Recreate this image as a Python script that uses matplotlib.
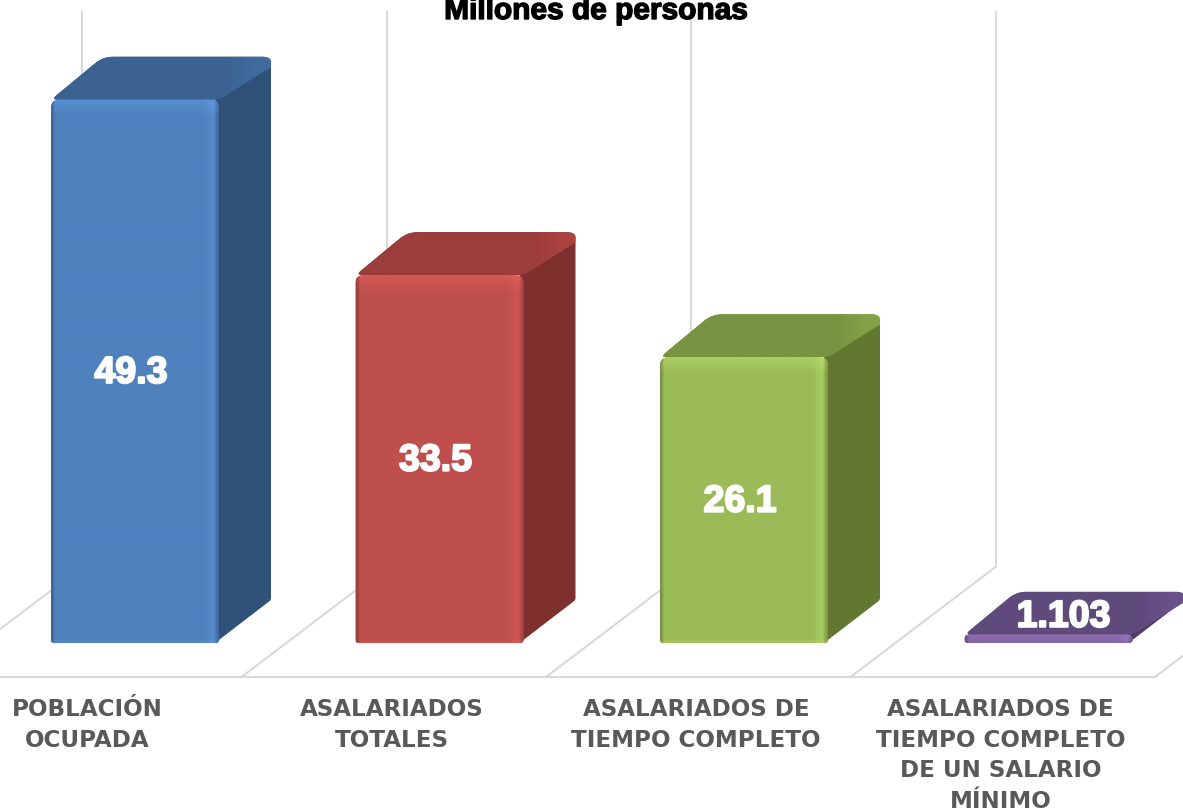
import numpy as np
import matplotlib
matplotlib.use('Agg')
import matplotlib.pyplot as plt
import matplotlib.patheffects as pe
from matplotlib.patches import PathPatch
from matplotlib.path import Path

# data
categories = ['POBLACIÓN\nOCUPADA', 'ASALARIADOS\nTOTALES',
              'ASALARIADOS DE\nTIEMPO COMPLETO',
              'ASALARIADOS DE\nTIEMPO COMPLETO\nDE UN SALARIO\nMÍNIMO']
values = [49.3, 33.5, 26.1, 1.103]
value_labels = ['49.3', '33.5', '26.1', '1.103']
front_colors = ['#4f81bd', '#c0504d', '#9bbb59', '#8064a2']
top_colors = ['#3b6291', '#9b3d3b', '#789341', '#5f4a7c']
side_colors = ['#30527a', '#7e302e', '#62772f', '#4d3b66']

# scale of the 3d box: pixels per unit on both axes
PX_X = 304.5
PX_Y = 11.1
BAR_W = 168 / PX_X
DEPTH_X = 52 / PX_X
DEPTH_Y = 43 / PX_Y
FLOOR = 4 / PX_Y   # bars sit a bit above zero, like the 3d floor in the original

fig = plt.figure(figsize=(11.83, 8.11), dpi=100)
ax = fig.add_axes([0, 0, 1, 1])
ax.axis('off')
xlim = (-135 / PX_X, (1183 - 135) / PX_X)
ylim = ((647 - 811) / PX_Y, 647 / PX_Y)

# grid: back walls and floor
grid = '#d9d9d9'
wall_top = 635 / PX_Y
wall_bottom = 80 / PX_Y
floor_y = -30 / PX_Y
for i in range(5):
    x = i - 53 / PX_X
    if i < 4:
        ax.plot([x, x], [wall_bottom, wall_top], color=grid, lw=1.5, zorder=1)
    ax.plot([x, x - 145 / PX_X], [wall_bottom, floor_y], color=grid, lw=1.5, zorder=1)
ax.plot([-0.6, 4 - 198 / PX_X], [floor_y, floor_y], color=grid, lw=1.5, zorder=1)


def rounded(pts, radii):
    # closed path through pts (data units), corners rounded by radii given in pixels
    scale = np.array([PX_X, PX_Y])
    p = np.array(pts) * scale
    n = len(p)
    verts, codes = [], []
    for k in range(n):
        cur = p[k]
        prev = p[k - 1]
        nxt = p[(k + 1) % n]
        a = cur + (prev - cur) / np.linalg.norm(prev - cur) * min(radii[k], np.linalg.norm(prev - cur) / 2)
        b = cur + (nxt - cur) / np.linalg.norm(nxt - cur) * min(radii[k], np.linalg.norm(nxt - cur) / 2)
        verts.append(a)
        codes.append(Path.MOVETO if k == 0 else Path.LINETO)
        verts += [cur, b]
        codes += [Path.CURVE3, Path.CURVE3]
    verts.append(verts[0])
    codes.append(Path.CLOSEPOLY)
    return Path(np.array(verts) / scale, codes)


def rgb(c):
    return np.array(matplotlib.colors.to_rgb(c))


for i, v in enumerate(values):
    x0 = i - BAR_W / 2
    x1 = i + BAR_W / 2
    base = FLOOR
    top = v
    notch = 10 / PX_Y

    # side face
    side = [(x1 - 4 / PX_X, base), (x1 + DEPTH_X, base + DEPTH_Y),
            (x1 + DEPTH_X, top + DEPTH_Y - notch), (x1 - 4 / PX_X, top)]
    ax.add_patch(PathPatch(rounded(side, [0, 2, 0, 0]), fc=side_colors[i], ec='none', zorder=3))

    # top face, slightly lighter towards the right corner
    top_pts = [(x0, top), (x0 + DEPTH_X, top + DEPTH_Y), (x1 + DEPTH_X, top + DEPTH_Y),
               (x1 + DEPTH_X, top + DEPTH_Y - notch), (x1, top)]
    top_patch = PathPatch(rounded(top_pts, [7, 10, 9, 0, 7]), fc=top_colors[i], ec='none', zorder=4)
    ax.add_patch(top_patch)
    ramp = np.ones((2, 220))
    ramp[:, 175:205] = np.linspace(1.0, 1.1, 30)
    ramp[:, 205:] = 1.1
    top_img = np.clip(rgb(top_colors[i])[None, None, :] * ramp[:, :, None], 0, 1)
    im_top = ax.imshow(top_img, extent=(x0, x1 + DEPTH_X, top, top + DEPTH_Y), aspect='auto', zorder=4)
    im_top.set_clip_path(top_patch)

    # front face with bevel shading, drawn as an image clipped to a rounded box
    w = 168
    h = max(int(round((top - base) * PX_Y)), 4)
    fx = np.ones(w)
    fx[:5] = np.linspace(0.75, 1.0, 5)
    fx[w - 16:w - 6] = np.linspace(1.0, 1.07, 10)
    fx[w - 6:] = np.linspace(1.07, 0.8, 6)
    fy = np.ones(h)
    band = min(18, h)
    fy[:band] = np.linspace(1.1, 1.0, band)
    fy[-3:] = 1.04
    shading = np.outer(fy, fx)
    img = np.clip(rgb(front_colors[i])[None, None, :] * shading[:, :, None], 0, 1)
    r = min(8, h / 2)
    box = PathPatch(rounded([(x0, base), (x1, base), (x1, top), (x0, top)], [3, 3, r, r]),
                    fc=front_colors[i], ec='none', zorder=5)
    ax.add_patch(box)
    im = ax.imshow(img, extent=(x0, x1, base, top), aspect='auto', zorder=5, origin='upper')
    im.set_clip_path(box)

ax.set_xlim(xlim)
ax.set_ylim(ylim)

# value labels
for i, v in enumerate(values):
    if i == 3:
        lx, ly = i + 15 / PX_X, v + 18 / PX_Y
    else:
        lx, ly = i - 4 / PX_X, v / 2 + 0.5 / PX_Y
    ax.text(lx, ly, value_labels[i], color='white', fontsize=27, fontweight='bold',
            family=['Liberation Sans', 'DejaVu Sans'], ha='center', va='center', zorder=7,
            path_effects=[pe.withStroke(linewidth=1.5, foreground='white')])

# category labels
for i, name in enumerate(categories):
    ax.text(i - 48 / PX_X, -51 / PX_Y, name, color='#595959', fontsize=16.6, fontweight='bold',
            family='DejaVu Sans', ha='center', va='top', linespacing=1.43, zorder=7)

# title, cut by the top edge like the original
ax.text(461 / PX_X, (647 - 11) / PX_Y, 'Millones de personas', color='black',
        fontsize=21.5, fontweight='bold', family=['Liberation Sans', 'DejaVu Sans'],
        ha='center', va='center', zorder=7,
        path_effects=[pe.withStroke(linewidth=1, foreground='black')])

fig.savefig('out.png', dpi=100)
